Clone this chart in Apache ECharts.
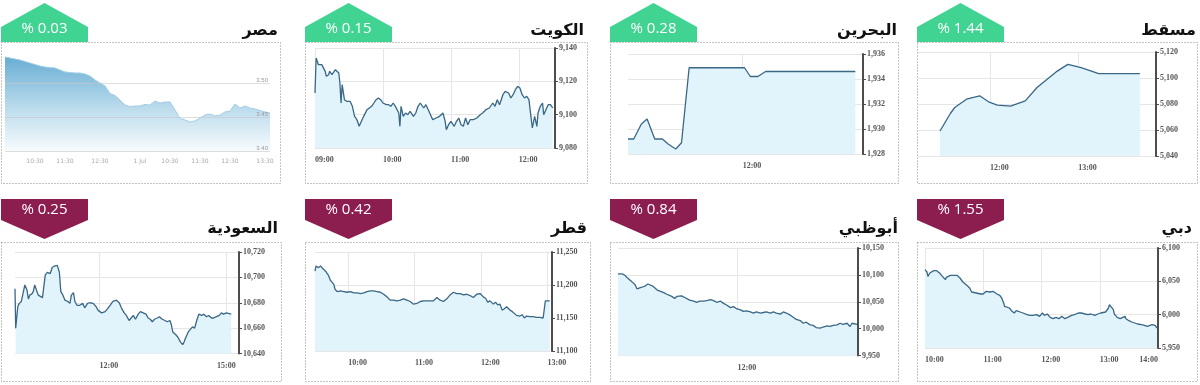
<!DOCTYPE html>
<html><head><meta charset="utf-8">
<script src="https://cdn.jsdelivr.net/npm/echarts@6/dist/echarts.min.js"></script>
<style>html,body{margin:0;padding:0;background:#fff}#c{width:1200px;height:385px}</style>
</head><body><div id="c"></div>
<script>
// ---------------- data ----------------
const marketNames = ['مصر', 'الكويت', 'البحرين', 'مسقط', 'السعودية', 'قطر', 'أبوظبي', 'دبي'];
const changeLabels = ['% 0.03', '% 0.15', '% 0.28', '% 1.44', '% 0.25', '% 0.42', '% 0.84', '% 1.55'];
const changeDirection = ['up', 'up', 'up', 'up', 'down', 'down', 'down', 'down'];

// Egypt (evenly sampled session values)
const egyptValues = [3.5382,3.5368,3.5353,3.5338,3.5316,3.5294,3.5272,3.525,3.5235,3.5228,3.5221,3.5191,3.5162,3.5154,3.5147,3.5147,3.5132,3.5103,3.5044,3.50,3.4956,3.4846,3.4816,3.475,3.4676,3.4654,3.4662,3.4662,3.4684,3.4676,3.4735,3.4706,3.4721,3.4721,3.4603,3.4478,3.4456,3.4426,3.4441,3.4485,3.4529,3.4544,3.4515,3.4529,3.4574,3.4588,3.4691,3.4632,3.4662,3.4632,3.4618,3.4596,3.4574,3.4559];
const egyptXLabels = ['10:30', '11:30', '12:30', '1 Jul', '10:30', '11:30', '12:30', '13:30'];
const egyptXLabelAt = [6, 12, 19, 27, 33, 39, 45, 52];
const egyptYTicks = [3.40, 3.45, 3.50];
const egyptYTop = 3.54;

// Kuwait
const kuwaitRange = ['09:00', '12:32'];
const kuwaitXTicks = ['09:00', '10:00', '11:00', '12:00'];
const kuwaitYTicks = [9080, 9100, 9120, 9140];
const kuwaitSeries = [['09:00',9113],['09:01',9134],['09:02',9132],['09:03',9130],['09:04',9129],['09:06',9130],['09:07',9129],['09:09',9126],['09:10',9123],['09:12',9124],['09:13',9126],['09:15',9124],['09:16',9125],['09:18',9127],['09:19',9128],['09:21',9125],['09:22',9119],['09:23',9107],['09:24',9118],['09:26',9109],['09:28',9108],['09:31',9108],['09:33',9105],['09:35',9099],['09:37',9097],['09:39',9093],['09:41',9096],['09:43',9099],['09:46',9103],['09:48',9104],['09:50',9105],['09:52',9107],['09:54',9109],['09:56',9110],['09:58',9109],['10:00',9107],['10:03',9106],['10:05',9106],['10:07',9105],['10:09',9107],['10:11',9105],['10:14',9101],['10:15',9093],['10:16',9105],['10:18',9099],['10:20',9101],['10:22',9100],['10:24',9102],['10:27',9099],['10:29',9101],['10:31',9105],['10:33',9107],['10:36',9104],['10:38',9106],['10:40',9103],['10:42',9100],['10:44',9097],['10:47',9098],['10:50',9099],['10:53',9101],['10:55',9096],['10:56',9091],['10:58',9094],['11:00',9096],['11:03',9093],['11:05',9096],['11:07',9098],['11:09',9094],['11:11',9093],['11:13',9098],['11:15',9094],['11:17',9097],['11:20',9097],['11:23',9098],['11:26',9100],['11:28',9101],['11:31',9103],['11:34',9104],['11:37',9107],['11:39',9105],['11:41',9109],['11:43',9106],['11:46',9112],['11:48',9114],['11:51',9113],['11:53',9110],['11:55',9112],['11:57',9115],['11:59',9117],['12:01',9116],['12:03',9112],['12:05',9110],['12:07',9111],['12:09',9109],['12:10',9103],['12:12',9092],['12:14',9099],['12:16',9093],['12:17',9101],['12:19',9105],['12:21',9107],['12:22',9100],['12:24',9103],['12:26',9106],['12:28',9106],['12:30',9104]];

// Bahrain
const bahrainRange = ['11:00', '13:03'];
const bahrainXTicks = ['12:00'];
const bahrainYTicks = [1928, 1930, 1932, 1934, 1936];
const bahrainSeries = [['11:00',1929.2],['11:03',1929.2],['11:07',1930.4],['11:10',1930.8],['11:14',1929.2],['11:18',1929.2],['11:21',1928.8],['11:25',1928.4],['11:28',1928.9],['11:32',1934.9],['12:01',1934.9],['12:04',1934.2],['12:08',1934.2],['12:12',1934.6],['12:59',1934.6]];

// Muscat
const muscatRange = ['11:11', '13:53'];
const muscatXTicks = ['12:00', '13:00'];
const muscatYTicks = [5040, 5060, 5080, 5100, 5120];
const muscatSeries = [['11:26',5059.2],['11:33',5072.7],['11:36',5077.3],['11:44',5083.7],['11:53',5086.3],['11:59',5081.7],['12:05',5079.1],['12:14',5078.3],['12:24',5082.4],['12:32',5092.7],['12:45',5104.7],['12:53',5110.5],['13:02',5108],['13:14',5103.4],['13:42',5103.4]];

// Saudi
const saudiRange = ['10:00', '15:18'];
const saudiXTicks = ['12:00', '15:00'];
const saudiYTicks = [10640, 10660, 10680, 10700, 10720];
const saudiSeries = [['10:00',10691],['10:01',10660],['10:04',10677],['10:06',10679.5],['10:09',10681],['10:12',10689],['10:14',10694],['10:17',10690],['10:19',10683],['10:21',10686],['10:24',10687],['10:26',10689],['10:28',10694],['10:31',10689],['10:33',10686],['10:35',10685],['10:39',10684],['10:43',10702],['10:46',10704],['10:50',10703],['10:53',10708],['10:57',10709],['11:00',10709.5],['11:03',10704],['11:05',10689],['11:08',10686],['11:11',10682],['11:15',10681],['11:18',10679.5],['11:20',10686],['11:23',10688],['11:25',10681],['11:28',10678],['11:32',10678],['11:36',10679.5],['11:39',10676],['11:43',10679.5],['11:46',10680],['11:51',10679.5],['11:55',10677],['11:58',10674],['12:03',10672],['12:08',10673],['12:11',10675],['12:15',10678],['12:19',10681],['12:24',10682],['12:28',10680],['12:31',10676],['12:35',10672],['12:38',10670],['12:42',10666],['12:45',10668],['12:48',10670],['12:51',10667],['12:55',10671],['12:58',10673],['13:02',10672],['13:06',10671],['13:09',10668],['13:12',10667],['13:15',10665],['13:18',10667],['13:22',10668],['13:25',10669],['13:29',10667],['13:33',10666],['13:36',10665],['13:40',10666],['13:42',10662.5],['13:44',10657],['13:48',10655],['13:51',10653],['13:55',10649],['13:58',10647],['14:00',10649],['14:02',10652],['14:06',10657],['14:09',10659],['14:12',10661],['14:15',10660],['14:18',10666],['14:21',10671],['14:25',10670],['14:28',10671],['14:32',10669],['14:35',10670],['14:39',10668],['14:42',10668],['14:46',10669],['14:50',10670],['14:53',10672],['14:56',10671],['15:00',10672],['15:07',10671]];

// Qatar
const qatarRange = ['09:30', '13:04'];
const qatarXTicks = ['10:00', '11:00', '12:00', '13:00'];
const qatarYTicks = [11100, 11150, 11200, 11250];
const qatarSeries = [['09:30',11221],['09:31',11229],['09:33',11226],['09:35',11229],['09:37',11225],['09:40',11220],['09:42',11215],['09:44',11207],['09:47',11201],['09:48',11194],['09:50',11190],['09:53',11191],['09:56',11190],['09:59',11189],['10:02',11190],['10:05',11188],['10:08',11188],['10:11',11187],['10:14',11188],['10:17',11190],['10:20',11191],['10:23',11191],['10:26',11190],['10:29',11189],['10:32',11186],['10:35',11182],['10:38',11177],['10:41',11177],['10:44',11176],['10:47',11177],['10:50',11179],['10:53',11177],['10:56',11175],['10:59',11171],['11:02',11172],['11:05',11175],['11:08',11176],['11:11',11176],['11:14',11176],['11:17',11176],['11:20',11181],['11:23',11177],['11:26',11175],['11:29',11179],['11:32',11185],['11:35',11189],['11:38',11187],['11:41',11187],['11:44',11185],['11:47',11186],['11:50',11184],['11:53',11181],['11:56',11186],['11:59',11187],['12:02',11182],['12:04',11180],['12:06',11174],['12:08',11176],['12:11',11171],['12:13',11174],['12:15',11170],['12:17',11171],['12:19',11162],['12:21',11164],['12:23',11167],['12:26',11162],['12:28',11160],['12:30',11157],['12:32',11154],['12:35',11153],['12:37',11155],['12:39',11150],['12:41',11153],['12:44',11152],['12:47',11152],['12:50',11151],['12:53',11151],['12:56',11150],['12:57',11148],['12:58',11176],['13:02',11176]];

// Abu Dhabi
const abuDhabiRange = ['10:00', '14:01'];
const abuDhabiXTicks = ['12:00'];
const abuDhabiYTicks = [9950, 10000, 10050, 10100, 10150];
const abuDhabiSeries = [['10:00',10102],['10:04',10102],['10:07',10099],['10:09',10095],['10:11',10093],['10:14',10087],['10:17',10082],['10:19',10074],['10:21',10076],['10:24',10077],['10:27',10079],['10:30',10083],['10:32',10082],['10:35',10079],['10:37',10077],['10:40',10071],['10:42',10068],['10:46',10067],['10:49',10064],['10:51',10063],['10:54',10060],['10:57',10056],['10:59',10060],['11:01',10062],['11:04',10061],['11:07',10058],['11:09',10056],['11:12',10053],['11:16',10051],['11:19',10049],['11:22',10051],['11:26',10051],['11:29',10052],['11:33',10054],['11:36',10052],['11:39',10049],['11:43',10051],['11:46',10047],['11:49',10044],['11:53',10039],['11:56',10041],['11:59',10037],['12:03',10035],['12:06',10032],['12:09',10033],['12:13',10031],['12:16',10029],['12:19',10031],['12:23',10029],['12:26',10030],['12:29',10031],['12:33',10029],['12:36',10031],['12:39',10029],['12:43',10027],['12:46',10031],['12:49',10029],['12:53',10025],['12:56',10021],['12:59',10017],['13:03',10015],['13:06',10010],['13:09',10012],['13:13',10007],['13:16',10006],['13:19',10002],['13:23',10001],['13:26',10003],['13:30',10005],['13:33',10004],['13:36',10006],['13:40',10007],['13:43',10010],['13:46',10008],['13:50',10010],['13:53',10004],['13:55',10010],['14:00',10008]];

// Dubai
const dubaiRange = ['10:00', '14:00'];
const dubaiXTicks = ['10:00', '11:00', '12:00', '13:00', '14:00'];
const dubaiYTicks = [5950, 6000, 6050, 6100];
const dubaiSeries = [['10:00',6067.5],['10:02',6064],['10:03',6057.5],['10:05',6062.5],['10:07',6064],['10:09',6066],['10:10',6067.5],['10:12',6066],['10:14',6067.5],['10:15',6062.5],['10:17',6059],['10:19',6056],['10:21',6052.5],['10:22',6056],['10:24',6057.5],['10:26',6059],['10:27',6057.5],['10:29',6059],['10:31',6057.5],['10:33',6059],['10:34',6057.5],['10:36',6055],['10:38',6054],['10:39',6049],['10:41',6046],['10:43',6044],['10:45',6041],['10:46',6040],['10:48',6034],['10:50',6032.5],['10:53',6032.5],['10:57',6031],['10:58',6029],['11:00',6031],['11:02',6034],['11:03',6035],['11:07',6034],['11:10',6035],['11:12',6032.5],['11:14',6031],['11:17',6029],['11:19',6025],['11:21',6017.5],['11:22',6012.5],['11:24',6011],['11:27',6010],['11:29',6006],['11:32',6002.5],['11:34',6006],['11:36',6007.5],['11:38',6004],['11:41',6002.5],['11:45',6000],['11:48',5999],['11:51',5999],['11:55',6000],['11:58',5997.5],['12:01',6002.5],['12:03',5999],['12:06',6001],['12:09',5996],['12:12',5994],['12:15',5996],['12:18',5994],['12:21',5997.5],['12:24',5994],['12:27',5996],['12:31',5999],['12:34',6000],['12:38',6002.5],['12:41',6002.5],['12:45',6001],['12:48',6000],['12:51',6001],['12:55',5999],['12:58',6001],['13:01',6002.5],['13:03',6002.5],['13:06',6004],['13:09',6010],['13:10',6015],['13:12',6012.5],['13:14',6007.5],['13:15',6001],['13:18',5996],['13:21',5994],['13:23',5996],['13:26',5997.5],['13:27',5994],['13:30',5991],['13:33',5989],['13:36',5987.5],['13:39',5986],['13:43',5985],['13:46',5984],['13:49',5982.5],['13:51',5984],['13:54',5985],['13:57',5984],['13:59',5980]];

// ---------------- layout / style ----------------
const boxes = [[1,42,279,141],[305,42,282,141],[610,42,288,141],[917,42,280,141],
               [1,242,280,139],[305,242,285,139],[610,242,288,139],[917,242,280,139]];
const grids = [
  {left:5, top:55.8, width:265, height:95.2},
  {left:315, top:48, width:240, height:100},
  {left:628, top:54, width:235, height:100},
  {left:918, top:52, width:238, height:104},
  {left:15, top:252, width:224, height:101.5},
  {left:315, top:252, width:237, height:99},
  {left:618, top:248, width:240, height:107.5},
  {left:925, top:248, width:233, height:100}
];
const titleRight = [278, 584, 897, 1196, 278, 587, 898, 1192];
const GREEN = '#40d392', MAROON = '#8c1d4f';
const LINE = '#3a6786', FILL = '#e1f4fb', GRIDC = '#e6e6e6', AXISC = '#4d4d4d';
const LFONT = 'Liberation Serif';

const timePanels = [
  null,
  {range:kuwaitRange, xt:kuwaitXTicks, yt:kuwaitYTicks, s:kuwaitSeries, align:{}},
  {range:bahrainRange, xt:bahrainXTicks, yt:bahrainYTicks, s:bahrainSeries, align:{}},
  {range:muscatRange, xt:muscatXTicks, yt:muscatYTicks, s:muscatSeries, align:{}},
  {range:saudiRange, xt:saudiXTicks, yt:saudiYTicks, s:saudiSeries, align:{'15:00':'c'}},
  {range:qatarRange, xt:qatarXTicks, yt:qatarYTicks, s:qatarSeries, align:{}},
  {range:abuDhabiRange, xt:abuDhabiXTicks, yt:abuDhabiYTicks, s:abuDhabiSeries, align:{}},
  {range:dubaiRange, xt:dubaiXTicks, yt:dubaiYTicks, s:dubaiSeries, align:{'14:00':'r'}}
];

function toMin(t){ const p = t.split(':'); return (+p[0])*60 + (+p[1]); }
function toStr(m){ const h = Math.floor(m/60), mm = m%60; return (h<10?'0':'')+h+':'+(mm<10?'0':'')+mm; }
function minuteCats(range){ const out=[]; for(let m=toMin(range[0]); m<=toMin(range[1]); m++) out.push(toStr(m)); return out; }

const mctx = document.createElement('canvas').getContext('2d');
mctx.font = 'bold 8px "' + LFONT + '"';
const TW = mctx.measureText('00:00').width;
const labelBase = {fontSize:8, fontFamily:LFONT, fontWeight:'bold', color:'#555'};

const option = {animation:false, grid:[], xAxis:[], yAxis:[], series:[], graphic:[]};

grids.forEach(g => option.grid.push(Object.assign({containLabel:false}, g)));

// Egypt panel
option.xAxis.push({gridIndex:0, type:'value', min:0, max:egyptValues.length-1, interval:1,
  axisLine:{show:false}, axisTick:{show:false}, splitLine:{show:false},
  axisLabel:{margin:7, fontSize:6, color:'#aaa', fontFamily:'DejaVu Sans',
    formatter: v => { const i = egyptXLabelAt.indexOf(v); return i >= 0 ? egyptXLabels[i] : ''; }}});
option.yAxis.push({gridIndex:0, type:'value', position:'right', min:egyptYTicks[0], max:egyptYTop,
  interval: egyptYTicks[1]-egyptYTicks[0], z:5,
  axisLine:{show:false}, axisTick:{show:false},
  axisLabel:{inside:true, margin:2, fontSize:6, color:'#999', verticalAlign:'bottom', showMaxLabel:false,
    formatter: v => v.toFixed(2)},
  splitLine:{show:true, showMaxLine:false, lineStyle:{color:'rgba(200,200,200,0.6)'}}});
option.series.push({type:'line', xAxisIndex:0, yAxisIndex:0, symbol:'none',
  data: egyptValues.map((v,i)=>[i,v]),
  lineStyle:{color:'#a3cde3', width:1},
  areaStyle:{origin:'start', opacity:1, color:new echarts.graphic.LinearGradient(0,0,0,1,[
    {offset:0, color:'#68add4'},{offset:0.55, color:'#bcdced'},{offset:1, color:'#f7fbfd'}])}});

// Time panels
for (let k = 1; k < 8; k++) {
  const p = timePanels[k];
  const cats = minuteCats(p.range);
  const showTick = (i, v) => p.xt.indexOf(v) >= 0;
  option.xAxis.push({gridIndex:k, type:'category', data:cats, boundaryGap:false,
    axisLine:{show:false}, axisTick:{show:false},
    axisLabel:{interval:showTick, margin:8, align:'center',
      formatter: v => '{' + (p.align[v] || 'l') + '|' + v + '}',
      rich:{
        l: Object.assign({padding:[0,0,0,TW]}, labelBase),
        r: Object.assign({padding:[0,TW,0,0]}, labelBase),
        c: Object.assign({}, labelBase)
      }},
    splitLine:{show:true, interval:showTick, lineStyle:{color:GRIDC}}});
  option.yAxis.push({gridIndex:k, type:'value', position:'right',
    min:p.yt[0], max:p.yt[p.yt.length-1], interval:p.yt[1]-p.yt[0],
    axisLine:{show:true, lineStyle:{color:AXISC, width:2}},
    axisTick:{show:true, length:3, lineStyle:{color:AXISC, width:1}},
    axisLabel:Object.assign({margin:4, formatter: v => v.toLocaleString('en-US')}, labelBase),
    splitLine:{show:true, lineStyle:{color:GRIDC}}});
  option.series.push({type:'line', xAxisIndex:k, yAxisIndex:k, symbol:'none', data:p.s,
    lineStyle:{color:LINE, width:1.3},
    areaStyle:{origin:'start', opacity:1, color:FILL}});
}

// boxes, badges, titles
boxes.forEach((b, i) => {
  option.graphic.push({type:'rect', shape:{x:b[0]+0.5, y:b[1]+0.5, width:b[2], height:b[3]},
    style:{fill:'none', stroke:'#8a8a8a', lineWidth:1, lineDash:[1,2]}, z:10});
  const L = b[0];
  const up = changeDirection[i] === 'up';
  const pts = up
    ? [[L,b[1]],[L,27],[L+43.5,3],[L+87,27],[L+87,b[1]]]
    : [[L,199],[L+87,199],[L+87,220],[L+43.5,239],[L,220]];
  option.graphic.push({type:'polygon', shape:{points:pts}, style:{fill: up ? GREEN : MAROON}, z:20});
  option.graphic.push({type:'text', x:L+43.5, y: up ? 29 : 210, z:21,
    style:{text:changeLabels[i], fill:'#fff', font:'15px "Open Sans"', textAlign:'center', textVerticalAlign:'middle'}});
  option.graphic.push({type:'text', x:titleRight[i], y: up ? 31 : 229, z:21,
    style:{text:marketNames[i], fill:'#111', font:'bold 16px "DejaVu Sans"', textAlign:'right', textVerticalAlign:'middle'}});
});

const chart = echarts.init(document.getElementById('c'), null, {renderer:'canvas'});
chart.setOption(option);
</script>
</body></html>
